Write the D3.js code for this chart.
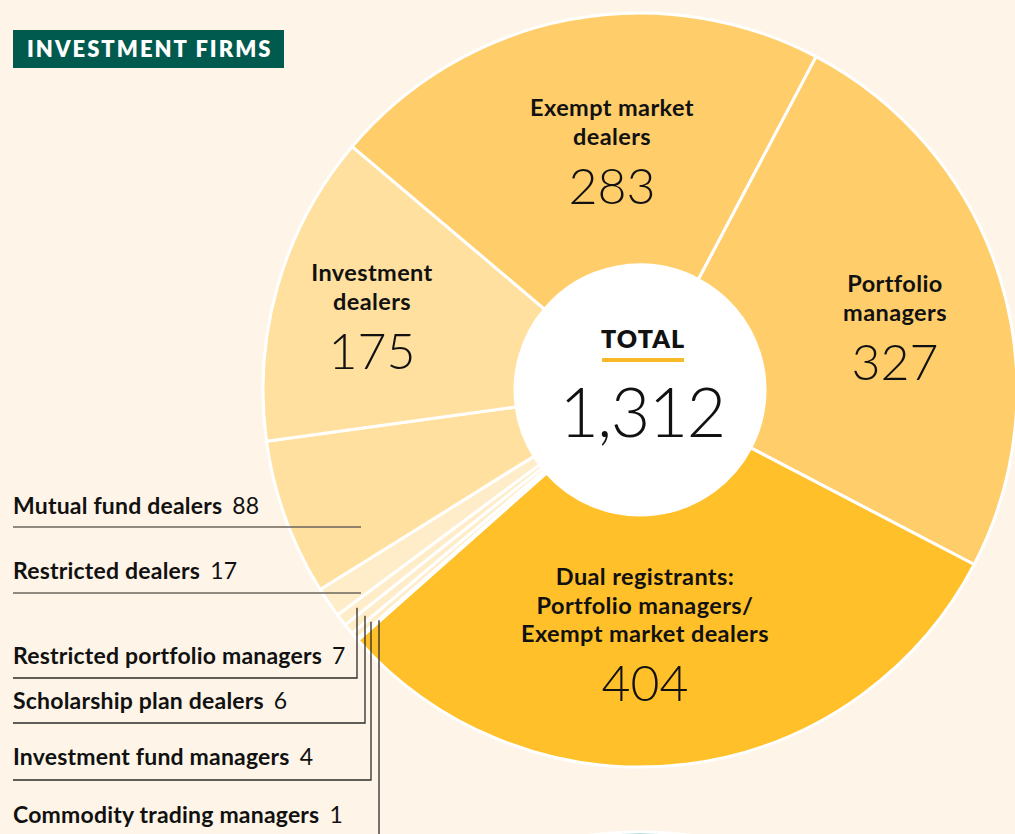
<!DOCTYPE html>
<html>
<head>
<meta charset="utf-8">
<script src="https://cdn.jsdelivr.net/npm/d3@7/dist/d3.min.js"></script>
<style>
  body { margin: 0; background: #fef5e8; }
  svg { display: block; }
  text { font-family: Lato, "Noto Sans", sans-serif; fill: #111; }
</style>
</head>
<body>
<div id="chart"></div>
<script>
// data, clockwise from the top
const categories = [
  'Exempt market dealers',
  'Portfolio managers',
  'Dual registrants: Portfolio managers/ Exempt market dealers',
  'Commodity trading managers',
  'Investment fund managers',
  'Scholarship plan dealers',
  'Restricted portfolio managers',
  'Restricted dealers',
  'Mutual fund dealers',
  'Investment dealers'
];
const values = [283, 327, 404, 1, 4, 6, 7, 17, 88, 175];
// wrapped names for the big slices
const sliceLines = [
  ['Exempt market', 'dealers'],
  ['Portfolio', 'managers'],
  ['Dual registrants:', 'Portfolio managers/', 'Exempt market dealers'],
  null, null, null, null, null, null,
  ['Investment', 'dealers']
];
const titleText = 'INVESTMENT FIRMS';
const totalText = 'TOTAL';

const width = 1015, height = 834;
const cx = 640, cy = 390;
const outerR = 377, innerR = 125;

const colors = ['#ffce6b', '#ffce6b', '#ffc02a', '#ffedc9', '#ffedc9', '#ffedc9', '#ffedc9', '#ffedc9', '#ffe09e', '#ffe09e'];

var svg = d3.select('#chart').append('svg')
  .attr('width', width)
  .attr('height', height);

svg.append('rect')
  .attr('width', width)
  .attr('height', height)
  .attr('fill', '#fef5e8');

// next chart peeking in at the bottom
svg.append('circle')
  .attr('cx', cx)
  .attr('cy', 832 + outerR)
  .attr('r', outerR)
  .attr('fill', '#5ec8b5')
  .attr('stroke', '#fff')
  .attr('stroke-width', 3);

var startDeg = -49.8;
var pie = d3.pie()
  .sort(null)
  .value(d => d)
  .startAngle(startDeg * Math.PI / 180)
  .endAngle((startDeg + 360) * Math.PI / 180);

var arcs = pie(values);

var arc = d3.arc()
  .innerRadius(innerR)
  .outerRadius(outerR);

var g = svg.append('g')
  .attr('transform', 'translate(' + cx + ',' + cy + ')');

g.selectAll('path.slice')
  .data(arcs)
  .enter()
  .append('path')
  .attr('class', 'slice')
  .attr('d', arc)
  .attr('fill', (d, i) => colors[i])
  .attr('stroke', '#fff')
  .attr('stroke-width', 3)
  .attr('stroke-linejoin', 'round');

g.append('circle')
  .attr('r', innerR)
  .attr('fill', '#fff');

// total in the hole
g.append('text')
  .attr('x', 3)
  .attr('y', -42)
  .attr('text-anchor', 'middle')
  .attr('font-size', 25)
  .attr('font-weight', 800)
  .attr('letter-spacing', 1)
  .text(totalText);

g.append('rect')
  .attr('x', -38)
  .attr('y', -32)
  .attr('width', 82)
  .attr('height', 4)
  .attr('fill', '#f7b928');

g.append('text')
  .attr('x', 2)
  .attr('y', 47)
  .attr('text-anchor', 'middle')
  .attr('font-size', 68)
  .attr('font-weight', 300)
  .attr('letter-spacing', -1.5)
  .text(d3.format(',')(d3.sum(values)));

// labels inside the big slices: centre x and first baseline
const labelSpots = {0: [612, 116], 1: [895, 292], 2: [645, 585], 9: [372, 281]};

Object.keys(labelSpots).forEach(function(k) {
  var i = +k;
  var spot = labelSpots[k];
  var lines = sliceLines[i];
  var t = svg.append('g');
  lines.forEach(function(line, j) {
    t.append('text')
      .attr('x', spot[0])
      .attr('y', spot[1] + j * 28.5)
      .attr('text-anchor', 'middle')
      .attr('font-size', 23.5)
      .attr('font-weight', 700)
      .attr('letter-spacing', 0.4)
      .text(line);
  });
  t.append('text')
    .attr('x', spot[0])
    .attr('y', spot[1] + (lines.length - 1) * 28.5 + 59)
    .attr('text-anchor', 'middle')
    .attr('font-size', 50)
    .attr('font-weight', 300)
    .text(values[i]);
});

// small slices labelled on the left with leader lines
const leaders = [
  {i: 8, y: 514, lineY: 527, x: 361, vertical: false},
  {i: 7, y: 579, lineY: 593, x: 361, vertical: false},
  {i: 6, y: 664, lineY: 678, x: 357, vertical: true},
  {i: 5, y: 709, lineY: 723, x: 365, vertical: true},
  {i: 4, y: 765, lineY: 780, x: 371, vertical: true},
  {i: 3, y: 823, lineY: 838, x: 379, vertical: true}
];

leaders.forEach(function(l) {
  var d = arcs[l.i];
  var mid = (d.startAngle + d.endAngle) / 2;
  var pts = [[13, l.lineY], [l.x, l.lineY]];
  if (l.vertical) {
    // climb up the vertical until it meets the slice's middle ray
    var r = (cx - l.x) / -Math.sin(mid);
    var topY = cy - r * Math.cos(mid);
    pts.push([l.x, topY]);
  }
  svg.append('path')
    .attr('d', d3.line()(pts))
    .attr('fill', 'none')
    .attr('stroke', l.vertical ? '#2b2b2b' : '#6a645c')
    .attr('stroke-width', 1.3);

  var t = svg.append('text')
    .attr('x', 13)
    .attr('y', l.y)
    .attr('font-size', 23)
    .attr('letter-spacing', 0.2);
  t.append('tspan')
    .attr('font-weight', 700)
    .text(categories[l.i]);
  t.append('tspan')
    .attr('font-weight', 400)
    .attr('dx', 10)
    .text(values[l.i]);
});

// title tag
svg.append('rect')
  .attr('x', 13)
  .attr('y', 30)
  .attr('width', 271)
  .attr('height', 38)
  .attr('fill', '#005a4e');

svg.append('text')
  .attr('x', 27)
  .attr('y', 57)
  .attr('font-size', 22)
  .attr('font-weight', 800)
  .attr('letter-spacing', 2)
  .style('fill', '#fff')
  .text(titleText);
</script>
</body>
</html>
